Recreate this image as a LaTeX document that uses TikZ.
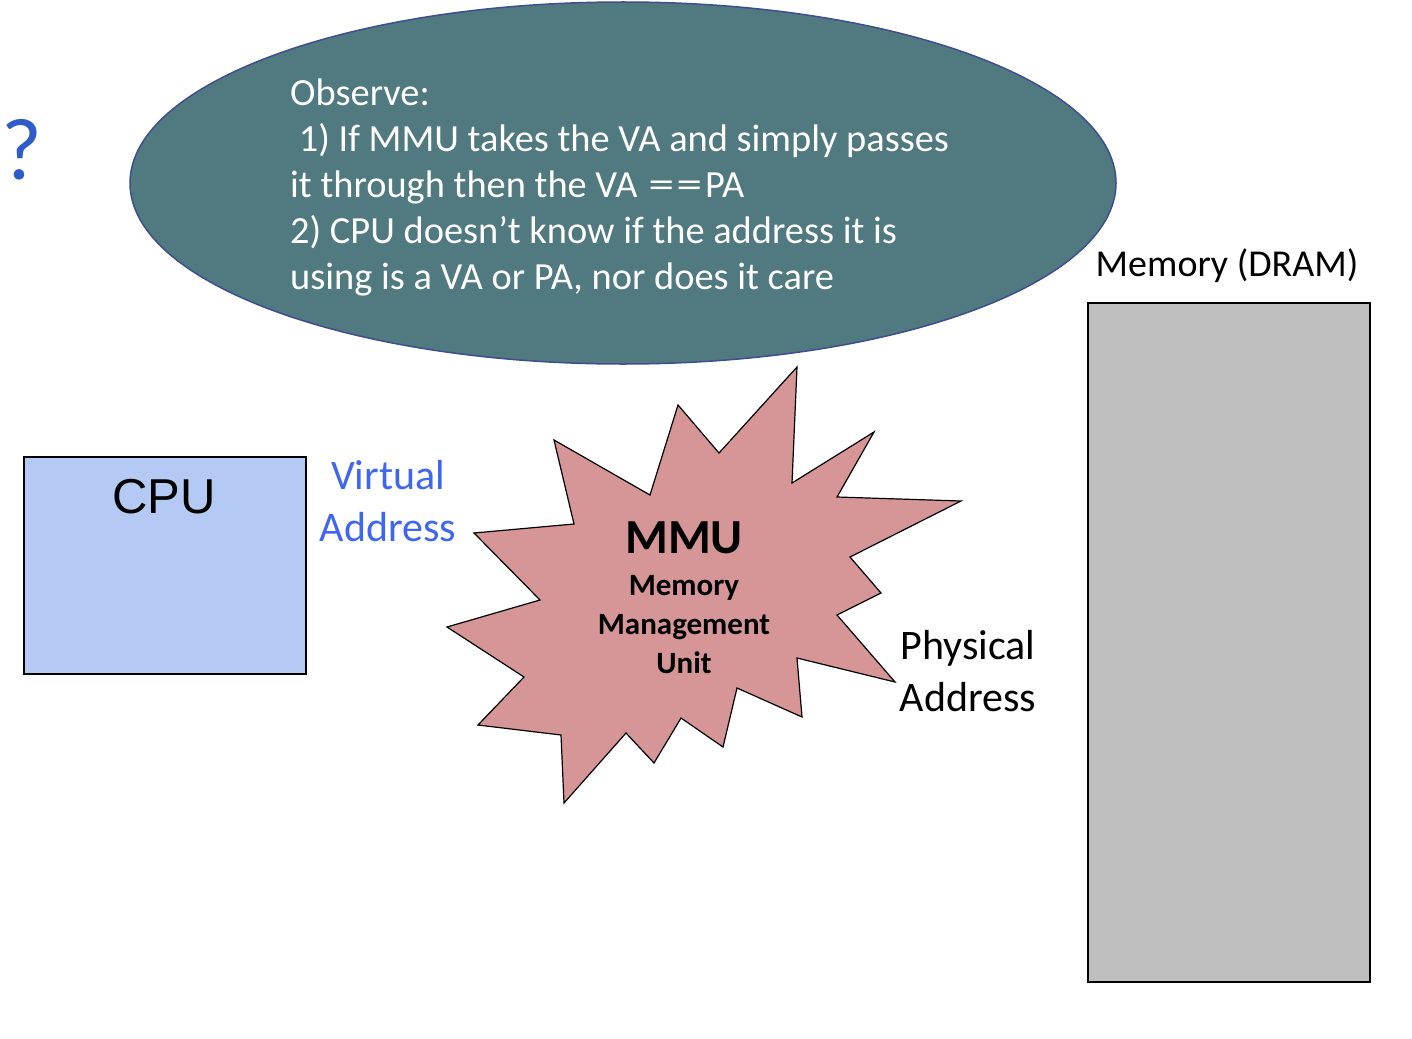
\documentclass[tikz,border=0pt]{standalone}
\usepackage{fontspec}
\usepackage{graphicx}
\setmainfont{Carlito}
\newfontfamily\arialfont{Liberation Sans}
\usetikzlibrary{positioning,shapes.geometric}

\definecolor{observefill}{RGB}{80,121,128}
\definecolor{observeline}{RGB}{63,78,140}
\definecolor{cpufill}{RGB}{180,202,244}
\definecolor{vablue}{RGB}{63,102,240}
\definecolor{qblue}{RGB}{47,92,200}
\definecolor{burstfill}{RGB}{214,149,150}
\definecolor{memfill}{RGB}{190,190,190}

\newcommand{\wideeq}{\scalebox{1.35}[1]{=}}

\begin{document}
\begin{tikzpicture}[
        x=1pt, y=-1pt,
        bubble/.style={ellipse, draw=observeline, line width=1.5pt,
            fill=observefill, minimum width=986pt, minimum height=362pt, inner sep=0pt},
        bubbletext/.style={anchor=north west, inner sep=0pt, align=left, text=white,
            font=\fontsize{38.4}{46}\selectfont},
        unitbox/.style={rectangle, draw=black, line width=1.5pt, inner sep=0pt},
        burst/.style={draw=black, line width=1.2pt, fill=burstfill, line join=miter},
        bigtext/.style={inner sep=0pt, align=center, font=\fontsize{42}{52}\selectfont},
    ]

    \useasboundingbox (0,0) rectangle (1412,1038);

    % stray question mark at the left edge
    \node [inner sep=0pt, text=qblue, font=\fontsize{88}{100}\selectfont] (qmark) at (22,150) {?};

    % the "observe" bubble
    \node [bubble] (observe) at (623,183) {};
    \node [bubbletext] (observetext) at (290,79)
        {Observe:\\
         \ 1) If MMU takes the VA and simply passes\\
         it through then the VA \kern2pt\wideeq\kern2pt\wideeq\kern3pt PA\\
         2) CPU doesn't know if the address it is\\
         using is a VA or PA, nor does it care};

    % CPU
    \node [unitbox, fill=cpufill, minimum width=282pt, minimum height=217pt] (cpu) at (165,565.5) {};
    \node [inner sep=0pt, font=\arialfont\fontsize{49}{56}\selectfont] (cpulabel) at (164,497) {CPU};

    \node [bigtext, text=vablue] (va) at (388,501) {Virtual\\Address};

    % MMU starburst
    \draw [burst] (797,367) -- (792,483) -- (874,432) -- (837,497) -- (961,501)
        -- (850,557) -- (881,593) -- (837,615) -- (895,682) -- (797,658)
        -- (802,717) -- (737,688) -- (723,747) -- (681,718) -- (654,763)
        -- (626,733) -- (564,803) -- (561,735) -- (478,725) -- (524,677)
        -- (447,627) -- (540,600) -- (474,533) -- (574,524) -- (554,440)
        -- (650,495) -- (678,405) -- (719,453) -- cycle;
    \node [inner sep=0pt, font=\bfseries\fontsize{49}{56}\selectfont] (mmu) at (684,538) {MMU};
    \node [inner sep=0pt, align=center, font=\bfseries\fontsize{31}{39}\selectfont] (mmusub) at (684,625)
        {Memory\\Management\\Unit};

    \node [bigtext] (pa) at (968,671) {Physical\\Address};

    % memory
    \node [inner sep=0pt, font=\fontsize{38}{44}\selectfont] (memlabel) at (1227,266) {Memory (DRAM)};
    \node [unitbox, fill=memfill, minimum width=282pt, minimum height=679pt] (mem) at (1229,642.5) {};

\end{tikzpicture}
\end{document}
